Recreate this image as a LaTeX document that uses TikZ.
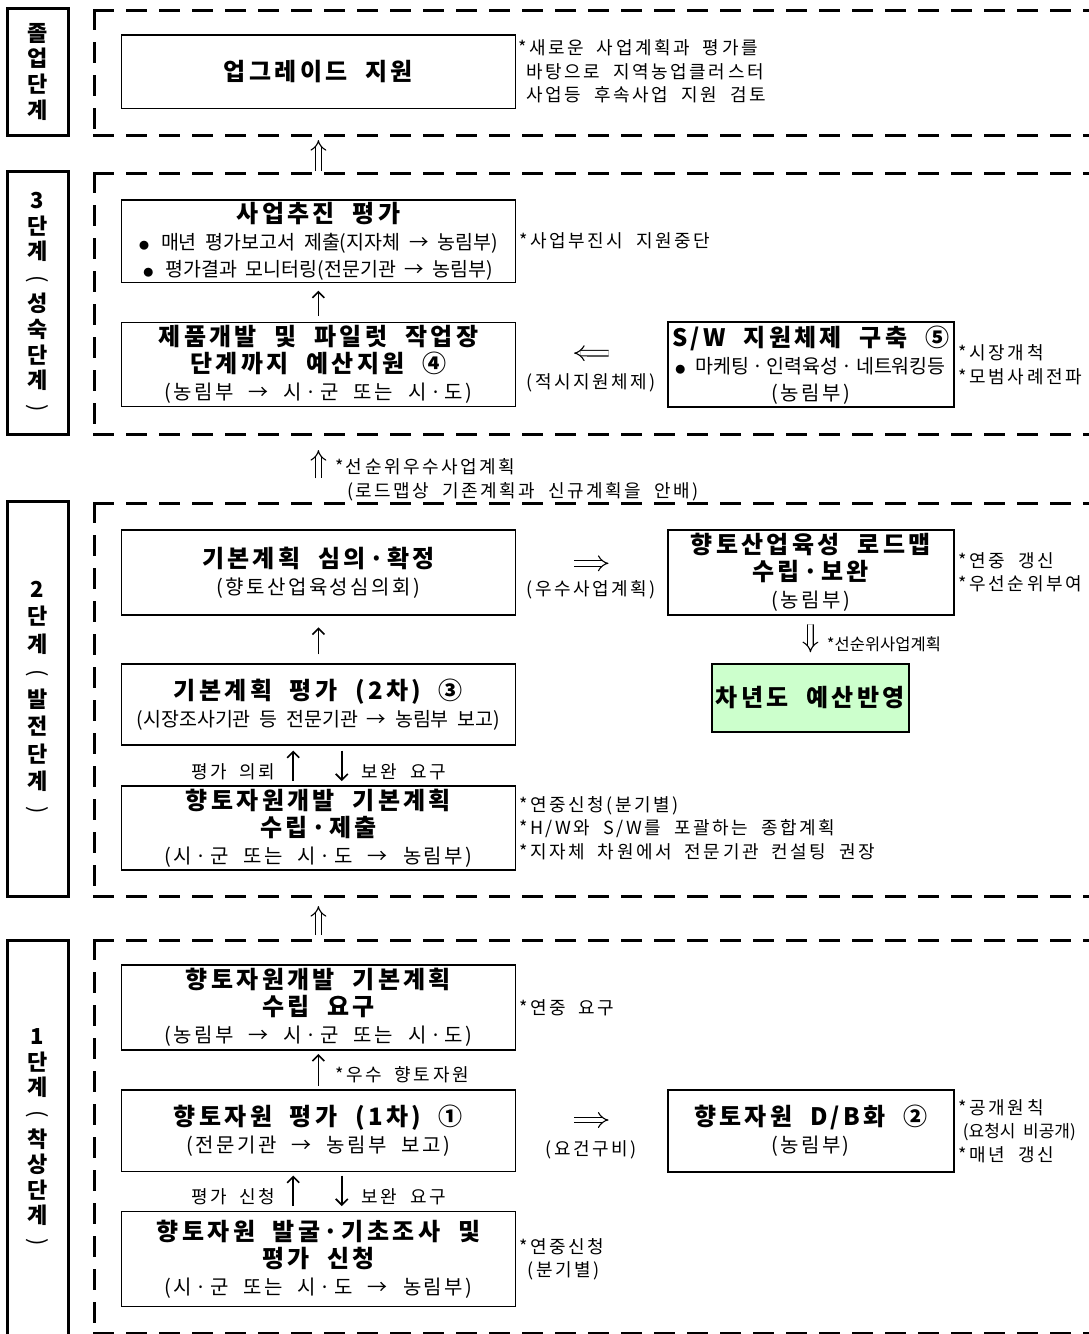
\documentclass[tikz,border=0pt]{standalone}
\usepackage{graphicx}
\usepackage{fontspec}
\setmainfont{Noto Sans CJK KR}
\newfontfamily\krttl[LetterSpace=14,WordSpace=2]{Noto Sans CJK KR}
\newfontfamily\krsub[LetterSpace=12,WordSpace=2.2]{Noto Sans CJK KR}
\newfontfamily\krnote[LetterSpace=14,WordSpace=2]{Noto Sans CJK KR}
\newfontfamily\krtight[WordSpace=2]{Noto Sans CJK KR}
\usetikzlibrary{arrows.meta,positioning}

\newcommand{\ttl}{\krttl\bfseries\fontsize{24}{27}\selectfont}
\newcommand{\subt}{\krsub\fontsize{20}{27}\selectfont}
\newcommand{\bul}{\krtight\fontsize{19.5}{27}\selectfont}
\newcommand{\nte}{\krnote\fontsize{18}{23.5}\selectfont}
\newcommand{\ntt}{\krtight\fontsize{17}{23.5}\selectfont}
\newcommand{\md}{\makebox[0.9em]{·}}
\newcommand{\bdot}{{\fontsize{10}{10}\selectfont ●}}
\newcommand{\vlp}{\rotatebox[origin=c]{-90}{\mdseries (}}
\newcommand{\vrp}{\rotatebox[origin=c]{-90}{\mdseries )}}
\definecolor{nextgreen}{RGB}{204,255,204}

\begin{document}
\begin{tikzpicture}[x=1pt,y=-1pt,
  stagebox/.style={draw,line width=3pt,minimum width=61pt,inner sep=0pt,align=center},
  stageframe/.style={line width=3pt,line cap=rect,dash pattern=on 18pt off 15pt},
  lbox/.style={draw,line width=1.3pt,minimum width=394pt,inner sep=1pt,align=center},
  rbox/.style={draw,line width=2.2pt,minimum width=286pt,inner sep=1pt,align=center},
  note/.style={anchor=west,align=left,inner sep=0pt,font=\nte},
  lbl/.style={inner sep=0pt,font=\nte},
  dbl/.style={double,double distance=4.5pt,line width=1.1pt,-{Implies}},
  sgl/.style={line width=1.6pt,-{Straight Barb[length=6pt,width=12pt]}}]
\useasboundingbox (0,0) rectangle (1088,1334);

%단계 표시
\node[stagebox,minimum height=126.7pt,font=\bfseries\fontsize{22}{25.7}\selectfont] (sgrad) at (37.5,71.7) {졸\\업\\단\\계};
\node[stagebox,minimum height=263.3pt,font=\bfseries\fontsize{22}{25.8}\selectfont] (s3) at (37.5,303.3) {3\\단\\계\\{\vlp}\\성\\숙\\단\\계\\{\vrp}};
\node[stagebox,minimum height=395pt,font=\bfseries\fontsize{22}{27.5}\selectfont] (s2) at (37.5,699.2) {2\\단\\계\\{\vlp}\\발\\전\\단\\계\\{\vrp}};
\node[stagebox,minimum height=398pt,font=\bfseries\fontsize{22}{25.6}\selectfont] (s1) at (37.5,1139) {1\\단\\계\\{\vlp}\\착\\상\\단\\계\\{\vrp}};

%점선 틀
\draw[stageframe] (94.4,10) -- (1100,10);
\draw[stageframe] (94.4,10) -- (94.4,135);
\draw[stageframe] (94.4,135) -- (1100,135);
\draw[stageframe] (94.4,173.3) -- (1100,173.3);
\draw[stageframe] (94.4,173.3) -- (94.4,434);
\draw[stageframe] (94.4,434) -- (1100,434);
\draw[stageframe] (94.4,503.3) -- (1100,503.3);
\draw[stageframe] (94.4,503.3) -- (94.4,896.7);
\draw[stageframe] (94.4,896.7) -- (1100,896.7);
\draw[stageframe] (94.4,940) -- (1100,940);
\draw[stageframe] (94.4,940) -- (94.4,1333);
\draw[stageframe] (94.4,1333) -- (1100,1333);

%졸업단계
\node[lbox,minimum height=73.3pt,font=\ttl] (up) at (318.4,71.7) {업그레이드 지원};
\node[note,right=2pt of up] (upnote) {*새로운 사업계획과 평가를\\\phantom{*}바탕으로 지역농업클러스터\\\phantom{*}사업등 후속사업 지원 검토};

%3단계
\node[lbox,minimum height=82.3pt,font=\bul] (eval3) at (318.4,241.2) {{\ttl 사업추진 평가}\\\bdot\hspace{12pt}매년 평가보고서 제출(지자체 → 농림부)\\\bdot\hspace{12pt}평가결과 모니터링(전문기관 → 농림부)};
\node[note,right=3pt of eval3] (eval3note) {*사업부진시 지원중단};
\node[lbox,minimum height=84.4pt,font=\subt] (budget) at (318.4,364.5) {{\ttl 제품개발 및 파일럿 작업장}\\{\ttl 단계까지 예산지원 ④}\\(농림부 → 시\md 군 또는 시\md 도)};
\node[rbox,minimum height=85pt,font=\subt] (sw) at (810.6,364.8) {{\ttl S/W 지원체제 구축 ⑤}\\{\bul \bdot\hspace{10pt}마케팅\md 인력육성\md 네트워킹등}\\(농림부)};
\node[note,right=4pt of sw] (swnote) {*시장개척\\*모범사례전파};

\draw[sgl,shorten <=5.6pt,shorten >=7.7pt] (budget) -- (eval3);
\draw[dbl,shorten <=58pt,shorten >=58pt] ([yshift=11.5pt]sw.west) -- ([yshift=11.5pt]budget.east) node[lbl,midway,yshift=-30pt] {(적시지원체제)};

%2단계
\node[lbox,minimum height=85pt,font=\subt] (confirm) at (318.4,572.5) {{\ttl 기본계획 심의\md 확정}\\(향토산업육성심의회)};
\node[rbox,minimum height=85pt,font=\subt] (roadmap) at (810.6,572.5) {{\ttl 향토산업육성 로드맵}\\{\ttl 수립\md 보완}\\(농림부)};
\node[note,right=4pt of roadmap] (roadnote) {*연중 갱신\\*우선순위부여};
\node[draw,line width=2pt,fill=nextgreen,minimum width=197pt,minimum height=67.7pt,font=\ttl] (nextyr) at (810.3,697.8) {차년도 예산반영};
\node[lbox,minimum height=81pt,font=\subt] (eval2) at (318.4,704.5) {{\ttl 기본계획 평가 (2차) ③}\\{\bul (시장조사기관 등 전문기관 → 농림부 보고)}};
\node[lbox,minimum height=84pt,font=\subt] (plan2) at (318.4,828) {{\ttl 향토자원개발 기본계획}\\{\ttl 수립\md 제출}\\(시\md 군 또는 시\md 도 → 농림부)};
\node[note,right=3pt of plan2] (plan2note) {*연중신청(분기별)\\*H/W와 S/W를 포괄하는 종합계획\\*지자체 차원에서 전문기관 컨설팅 권장};

\draw[dbl,shorten <=58pt,shorten >=58pt] ([yshift=9.2pt]confirm.east) -- ([yshift=9.2pt]roadmap.west) node[lbl,midway,yshift=-26.7pt] {(우수사업계획)};
\draw[dbl,shorten <=8.3pt,shorten >=10.7pt] (roadmap) -- (nextyr) node[midway,right=16pt,yshift=-5pt,inner sep=0pt,font=\krtight\fontsize{16.5}{18}\selectfont] {*선순위사업계획};
\draw[sgl,shorten <=9pt,shorten >=11.7pt] (eval2) -- (confirm);
\draw[sgl,shorten <=4.3pt,shorten >=5pt] ([xshift=-25.2pt]plan2.north) -- ([xshift=-25.2pt]eval2.south) node[lbl,midway,left=17pt,yshift=-6pt] {평가 의뢰};
\draw[sgl,shorten <=5pt,shorten >=4.3pt] ([xshift=23.4pt]eval2.south) -- ([xshift=23.4pt]plan2.north) node[lbl,midway,right=19pt,yshift=-6pt] {보완 요구};

%1단계
\node[lbox,minimum height=85pt,font=\subt] (req1) at (318.4,1007.5) {{\ttl 향토자원개발 기본계획}\\{\ttl 수립 요구}\\(농림부 → 시\md 군 또는 시\md 도)};
\node[note,right=3pt of req1] (req1note) {*연중 요구};
\node[lbox,minimum height=81.7pt,font=\subt] (eval1) at (318.4,1130.8) {{\ttl 향토자원 평가 (1차) ①}\\(전문기관 → 농림부 보고)};
\node[rbox,minimum height=81.7pt,font=\subt] (db) at (810.6,1130.8) {{\ttl 향토자원 D/B화 ②}\\(농림부)};
\node[note,right=4pt of db] (dbnote) {*공개원칙\\{\ntt\hspace{4pt}(요청시 비공개)}\\*매년 갱신};
\node[lbox,minimum height=95pt,font=\subt] (find) at (318.4,1259.2) {{\ttl 향토자원 발굴\md 기초조사 및}\\{\ttl 평가 신청}\\(시\md 군 또는 시\md 도 → 농림부)};
\node[note,right=3pt of find] (findnote) {*연중신청\\\phantom{*}(분기별)};

\draw[sgl,shorten <=3.3pt,shorten >=3.3pt] (eval1) -- (req1) node[lbl,midway,right=16pt,yshift=-5pt] {*우수 향토자원};
\draw[dbl,shorten <=58pt,shorten >=58pt] ([yshift=10.8pt]eval1.east) -- ([yshift=10.8pt]db.west) node[lbl,midway,yshift=-30pt] {(요건구비)};
\draw[sgl,shorten <=5pt,shorten >=3.3pt] ([xshift=-25.2pt]find.north) -- ([xshift=-25.2pt]eval1.south) node[lbl,midway,left=17pt,yshift=-5pt] {평가 신청};
\draw[sgl,shorten <=3.3pt,shorten >=5pt] ([xshift=23.4pt]eval1.south) -- ([xshift=23.4pt]find.north) node[lbl,midway,right=19pt,yshift=-5pt] {보완 요구};

%단계 사이 화살표
\coordinate (s3out) at (318.4,171);
\coordinate (gradin) at (318.4,140);
\draw[dbl] (s3out) -- (gradin);
\coordinate (s2out) at (318.4,478.3);
\coordinate (s3in) at (318.4,450);
\draw[dbl] (s2out) -- (s3in);
\node[note] (prionote) at (334.8,480) {*선순위우수사업계획\\\hspace{12pt}(로드맵상 기존계획과 신규계획을 안배)};
\coordinate (s1out) at (318.4,935);
\coordinate (s2in) at (318.4,906);
\draw[dbl] (s1out) -- (s2in);
\end{tikzpicture}
\end{document}
